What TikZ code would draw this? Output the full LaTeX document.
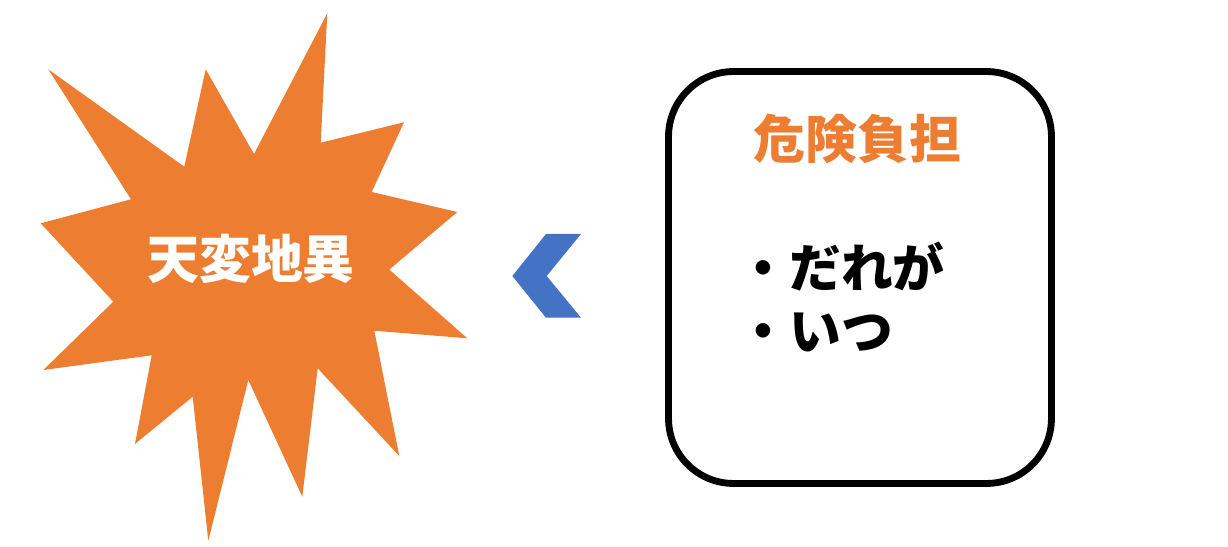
\documentclass[tikz,border=0pt]{standalone}
\usepackage{fontspec}
\setmainfont{Noto Sans CJK JP}
\usepackage{xcolor}
\usepackage{tikz}
\definecolor{burst}{HTML}{ED7D31}
\definecolor{chev}{HTML}{4472C4}

\begin{document}
\begin{tikzpicture}[x=0.02cm,y=-0.02cm,
	bigtext/.style={font=\fontsize{29.5}{36}\selectfont\bfseries, inner sep=0pt},
	riskbox/.style={draw=black, line width=3.9pt, rounded corners=1.3cm, minimum width=7.66cm, minimum height=8.24cm}]
	\useasboundingbox (0,0) rectangle (1228,547);
	% starburst
	\fill [burst] (327.3,13.3) -- (320.7,142.7) -- (404,122.3) -- (371.7,192) -- (457.3,212) -- (389.3,269.6)
		-- (467.3,338.3) -- (374.3,330.7) -- (399.3,456) -- (317.7,368.3) -- (302.3,496.7) -- (248.3,380)
		-- (208.3,540.7) -- (192.7,396.7) -- (135,444) -- (151.7,355.3) -- (43.3,370) -- (113.3,301.7)
		-- (40.7,223.3) -- (131,199.3) -- (48.3,69.3) -- (184.3,166.7) -- (205.7,69.3) -- (254,154) -- cycle;
	\node [bigtext, text=white] (disaster) at (251,259) {天変地異};
	% chevron
	\fill [chev] (581,234) -- (546,234) -- (512.3,276) -- (546,317.7) -- (581,317.7) -- (546.7,276) -- cycle;
	% box
	\node [riskbox] (box) at (860,277.5) {};
	\node [bigtext, text=burst] (title) at (857.5,139) {危険負担};
	\node [bigtext, anchor=west] (who) at (737,267) {・だれが};
	\node [bigtext, anchor=west] (when) at (737,332) {・いつ};
\end{tikzpicture}
\end{document}
